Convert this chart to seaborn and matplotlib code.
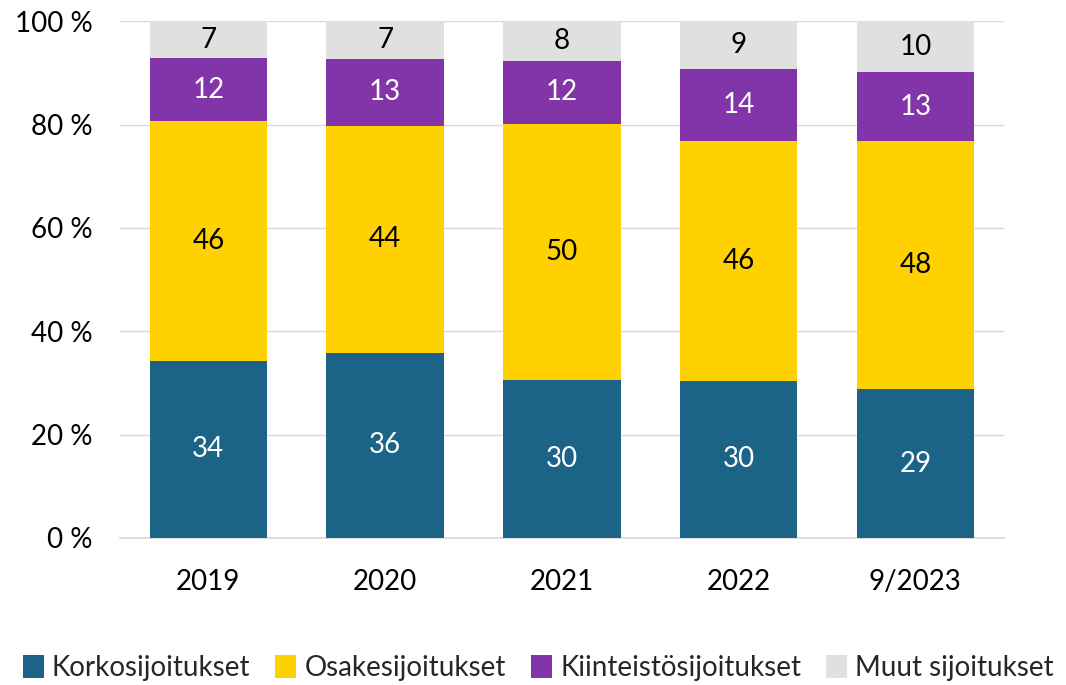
import matplotlib
matplotlib.use("Agg")
import matplotlib.pyplot as plt
import seaborn as sns
import numpy as np
import pandas as pd
from matplotlib.patches import Patch

categories = ["2019", "2020", "2021", "2022", "9/2023"]
series_names = ["Korkosijoitukset", "Osakesijoitukset", "Kiinteistösijoitukset", "Muut sijoitukset"]
korko = [34.3, 35.9, 30.5, 30.4, 28.8]
osake = [46.4, 43.9, 49.6, 46.4, 48.0]
kiinteisto = [12.2, 12.9, 12.3, 14.0, 13.4]
muut = [7.1, 7.3, 7.6, 9.2, 9.8]
y_ticks = [0, 20, 40, 60, 80, 100]

colors = ["#1B6487", "#FFD100", "#8235A9", "#E0E0E0"]
text_colors = ["white", "black", "white", "black"]

sns.set_theme(style="white")
plt.rcParams["font.family"] = ["Lato", "DejaVu Sans"]

fig = plt.figure(figsize=(10.66, 6.85), dpi=100)
ax = fig.add_axes([0.1126, 0.2146, 0.829, 0.7543])

series = [korko, osake, kiinteisto, muut]
cums = np.cumsum(np.array(series), axis=0)

# draw tallest cumulative first
for i in range(3, -1, -1):
    df = pd.DataFrame({"cat": categories, "val": cums[i]})
    sns.barplot(data=df, x="cat", y="val", order=categories, color=colors[i],
                saturation=1, width=0.665, linewidth=0, ax=ax, zorder=3)

for i, s in enumerate(series):
    bottoms = cums[i] - np.array(s)
    for j, v in enumerate(s):
        ax.text(j, bottoms[j] + v / 2, f"{round(v):d}", ha="center", va="center",
                color=text_colors[i], fontsize=20, zorder=5)

ax.set_ylim(0, 100)
ax.set_xlim(-0.5, len(categories) - 0.5)
ax.set_yticks(y_ticks)
ax.set_yticklabels([f"{t} %" for t in y_ticks])
ax.set_xlabel("")
ax.set_ylabel("")
ax.yaxis.grid(True, color="#D9D9D9", linewidth=1)
ax.set_axisbelow(True)
for sp in ["left", "right", "top"]:
    ax.spines[sp].set_visible(False)
ax.spines["bottom"].set_color("#D9D9D9")
ax.tick_params(axis="both", length=0, labelsize=20, colors="black")
ax.tick_params(axis="y", pad=20)
ax.tick_params(axis="x", pad=22)

handles = [Patch(facecolor=c, edgecolor="none") for c in colors]
fig.legend(handles, series_names, loc="center", bbox_to_anchor=(0.505, 0.025),
           ncol=4, frameon=False, fontsize=20, handlelength=0.75, handleheight=0.9,
           handletextpad=0.3, columnspacing=0.9)

fig.savefig("out.png", dpi=100)
